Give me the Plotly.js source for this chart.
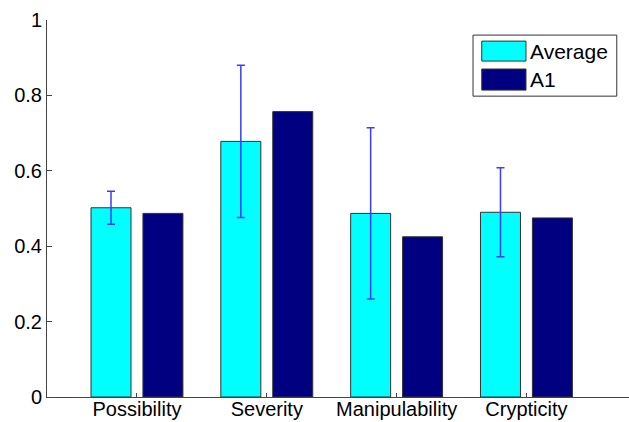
<!DOCTYPE html>
<html>
<head>
<meta charset="utf-8">
<script src="https://cdn.plot.ly/plotly-3.0.1.min.js"></script>
<style>html,body{margin:0;padding:0;background:#fff;}#chart{width:629px;height:422px;}</style>
</head>
<body>
<div id="chart"></div>
<script>
const categories = ["Possibility", "Severity", "Manipulability", "Crypticity"];
const averageValues = [0.502, 0.678, 0.487, 0.490];
const averageErrors = [0.044, 0.202, 0.227, 0.118];
const a1Values = [0.487, 0.757, 0.425, 0.475];
const yTickVals = [0, 0.2, 0.4, 0.6, 0.8, 1];
const yTickText = ["0", "0.2", "0.4", "0.6", "0.8", "1"];
const legendNames = ["Average", "A1"];

const FONT = "'Liberation Sans', Arial, Helvetica, sans-serif";
const colors = ["#00FFFF", "#000080"];

const traces = [
  {
    type: "bar", x: categories, y: averageValues, name: legendNames[0],
    marker: {color: colors[0], line: {color: "#333", width: 1}},
    error_y: {type: "data", array: averageErrors, visible: true, color: "rgb(60,60,255)", thickness: 1.5, width: 4},
    showlegend: false, hoverinfo: "x+y"
  },
  {
    type: "bar", x: categories, y: a1Values, name: legendNames[1],
    marker: {color: colors[1], line: {color: "#333", width: 1}},
    showlegend: false, hoverinfo: "x+y"
  }
];

// legend drawn as box + swatches + text in paper coords
const shapes = [
  {type: "rect", xref: "paper", yref: "paper", x0: 0.732, x1: 0.979, y0: 0.798, y1: 0.960,
   line: {color: "#333", width: 1}, fillcolor: "#fff"},
  {type: "rect", xref: "paper", yref: "paper", x0: 0.747, x1: 0.823, y0: 0.891, y1: 0.944,
   line: {color: "#333", width: 1}, fillcolor: colors[0]},
  {type: "rect", xref: "paper", yref: "paper", x0: 0.747, x1: 0.823, y0: 0.814, y1: 0.870,
   line: {color: "#333", width: 1}, fillcolor: colors[1]}
];
const annotations = [
  {xref: "paper", yref: "paper", x: 0.826, y: 0.917, text: legendNames[0], showarrow: false,
   xanchor: "left", yanchor: "middle", font: {family: FONT, size: 21, color: "#000"}},
  {xref: "paper", yref: "paper", x: 0.826, y: 0.842, text: legendNames[1], showarrow: false,
   xanchor: "left", yanchor: "middle", font: {family: FONT, size: 21, color: "#000"}}
];

const layout = {
  width: 629, height: 422,
  margin: {l: 47, r: 0, t: 20, b: 25, pad: 0},
  paper_bgcolor: "#fff", plot_bgcolor: "#fff",
  barmode: "group", bargap: 0.2, bargroupgap: 0.23,
  font: {family: FONT, size: 20, color: "#000"},
  showlegend: false,
  xaxis: {
    type: "category", range: [-0.693, 3.79],
    showline: true, linecolor: "#444", linewidth: 1,
    ticks: "inside", ticklen: 4, tickcolor: "#444",
    ticklabelstandoff: -6,
    showgrid: false, zeroline: false, fixedrange: true,
    tickfont: {family: FONT, size: 20, color: "#000"}
  },
  yaxis: {
    range: [0, 1], tickvals: yTickVals, ticktext: yTickText,
    showline: true, linecolor: "#444", linewidth: 1,
    ticks: "inside", ticklen: 5, tickcolor: "#444",
    showgrid: false, zeroline: false, fixedrange: true,
    tickfont: {family: FONT, size: 20, color: "#000"}
  },
  shapes: shapes,
  annotations: annotations
};

Plotly.newPlot("chart", traces, layout, {displayModeBar: false, staticPlot: true});
</script>
</body>
</html>
